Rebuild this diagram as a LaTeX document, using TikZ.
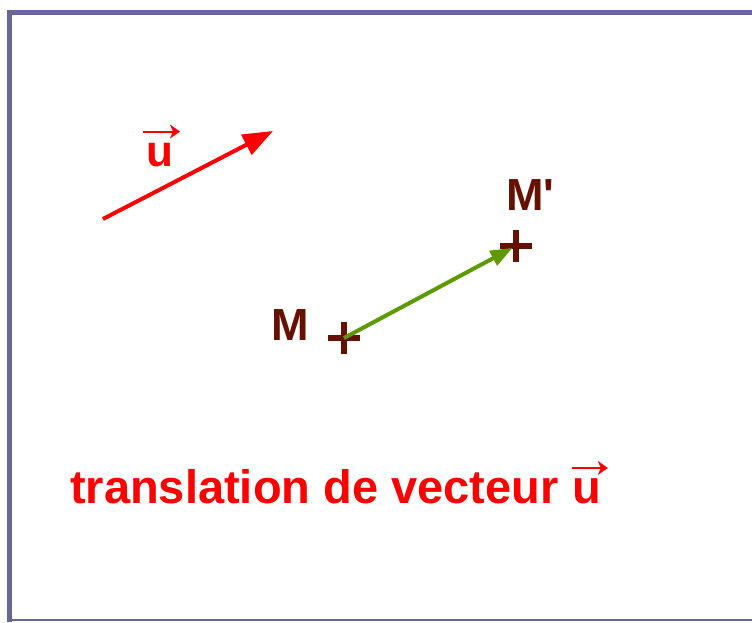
\documentclass[tikz,border=0pt]{standalone}
\usepackage{fontspec}
\setmainfont{Liberation Sans}
\usetikzlibrary{arrows.meta, shapes.misc}
\definecolor{frameBlue}{HTML}{666699}
\definecolor{vecRed}{HTML}{FF0000}
\definecolor{ptBrown}{HTML}{661100}
\definecolor{imgGreen}{HTML}{5C9A00}
\tikzset{
  frameL/.style={draw=frameBlue, line width=5pt},
  arrowU/.style={-{Triangle[length=30pt, width=22pt]}, vecRed, line width=4pt},
  arrowV/.style={-{Triangle[length=22pt, width=16pt]}, imgGreen, line width=4pt},
  vecBar/.style={-{Stealth[length=10pt, width=14pt, inset=3pt]}, vecRed, line width=2pt},
  ptPlus/.style={cross out, draw=ptBrown, line width=6pt, rotate=45,
                 minimum size=17pt, inner sep=0pt},
  lblPt/.style={text=ptBrown, font=\bfseries\fontsize{45}{45}\selectfont, inner sep=0pt},
  lblU/.style={text=vecRed, font=\bfseries\fontsize{47}{47}\selectfont, inner sep=0pt},
}
\begin{document}
\begin{tikzpicture}[x=1pt, y=-1pt]
  \useasboundingbox (0,0) rectangle (752,622);
  % cadre
  \draw[frameL] (9,622) -- (9,12) -- (752,12);
  \draw[draw=frameBlue, line width=2pt] (9,620) -- (752,620);
  % vecteur u
  \coordinate (uTail) at (103,219);
  \coordinate (uHead) at (273,131);
  \draw[arrowU] (uTail) -- (uHead);
  \node[lblU, font=\bfseries\fontsize{44}{44}\selectfont, anchor=base west] (uLbl) at (146,166) {u};
  \draw[vecBar] ([xshift=-3pt, yshift=11pt]uLbl.north west) -- ++(37,0);
  % points M et M'
  \node[ptPlus] (ptM) at (344,338) {};
  \node[ptPlus] (ptMp) at (516,246) {};
  \node[lblPt, anchor=base west] (lblM) at (271,340) {M};
  \node[lblPt, anchor=base west] (lblMp) at (506,210) {M\textquotesingle};
  \draw[arrowV, shorten >=4pt] (ptM.center) -- (ptMp.center);
  % legende
  \node[lblU, anchor=base west] (capTxt) at (70,503) {translation de vecteur};
  \node[lblU, anchor=base west] (capU) at ([xshift=13pt]capTxt.base east) {u};
  \draw[vecBar] ([xshift=0pt, yshift=10pt]capU.north west) -- ++(36,0);
\end{tikzpicture}
\end{document}
